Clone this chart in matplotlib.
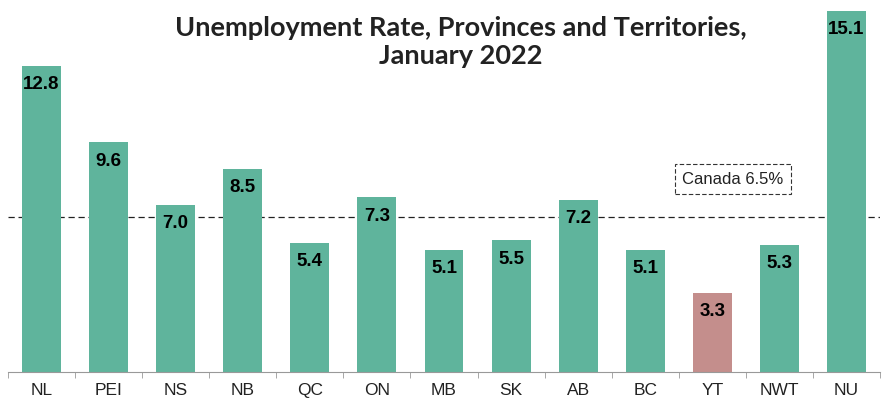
import matplotlib.pyplot as plt
import numpy as np

provinces = ['NL', 'PEI', 'NS', 'NB', 'QC', 'ON', 'MB', 'SK', 'AB', 'BC', 'YT', 'NWT', 'NU']
rates = [12.8, 9.6, 7.0, 8.5, 5.4, 7.3, 5.1, 5.5, 7.2, 5.1, 3.3, 5.3, 15.1]
canada_rate = 6.5

green = '#5fb49c'
pink = '#c48e8c'
colors = [pink if p == 'YT' else green for p in provinces]

fig = plt.figure(figsize=(8.83, 4.0), dpi=100)
ax = fig.add_axes([8 / 883, 0.07, 872 / 883, 0.93])

x = np.arange(len(provinces))
ax.bar(x, rates, width=0.58, color=colors, zorder=2)

# value labels just inside the top of each bar
for xi, v in zip(x, rates):
    ax.annotate(f'{v:.1f}', (xi, v), xytext=(0, -13.5), textcoords='offset points',
                ha='center', va='center', fontsize=13.5, fontweight='bold',
                family='Liberation Sans', color='black', zorder=3)

# national average reference line
ax.axhline(canada_rate, color='#222222', lw=0.9, ls=(0, (5, 3)), zorder=1)
ax.text(10.31, 8.05, f'Canada {canada_rate}%', ha='center', va='center',
        fontsize=12, family='Liberation Sans', color='#222222',
        bbox=dict(boxstyle='square,pad=0.45', fc='white', ec='#333333',
                  lw=0.8, ls=(0, (4, 2))))

ax.set_xlim(-0.5, len(provinces) - 0.5)
ax.set_ylim(0, 15.55)
ax.set_yticks([])
for s in ['top', 'right', 'left']:
    ax.spines[s].set_visible(False)
ax.spines['bottom'].set_color('#999999')

ax.set_xticks(x)
ax.set_xticklabels(provinces, fontsize=12.5, family='Liberation Sans', color='#222222')
ax.set_xticks(np.arange(-0.5, len(provinces)), minor=True)
ax.tick_params(axis='x', which='major', length=0, pad=8)
ax.tick_params(axis='x', which='minor', length=4, color='#999999')

fig.text(0.522, 0.895, 'Unemployment Rate, Provinces and Territories,\nJanuary 2022',
         ha='center', va='center', fontsize=19.5, fontweight='bold',
         family='Lato', color='#222222', linespacing=1.15)

fig.savefig('out.png', dpi=100)
